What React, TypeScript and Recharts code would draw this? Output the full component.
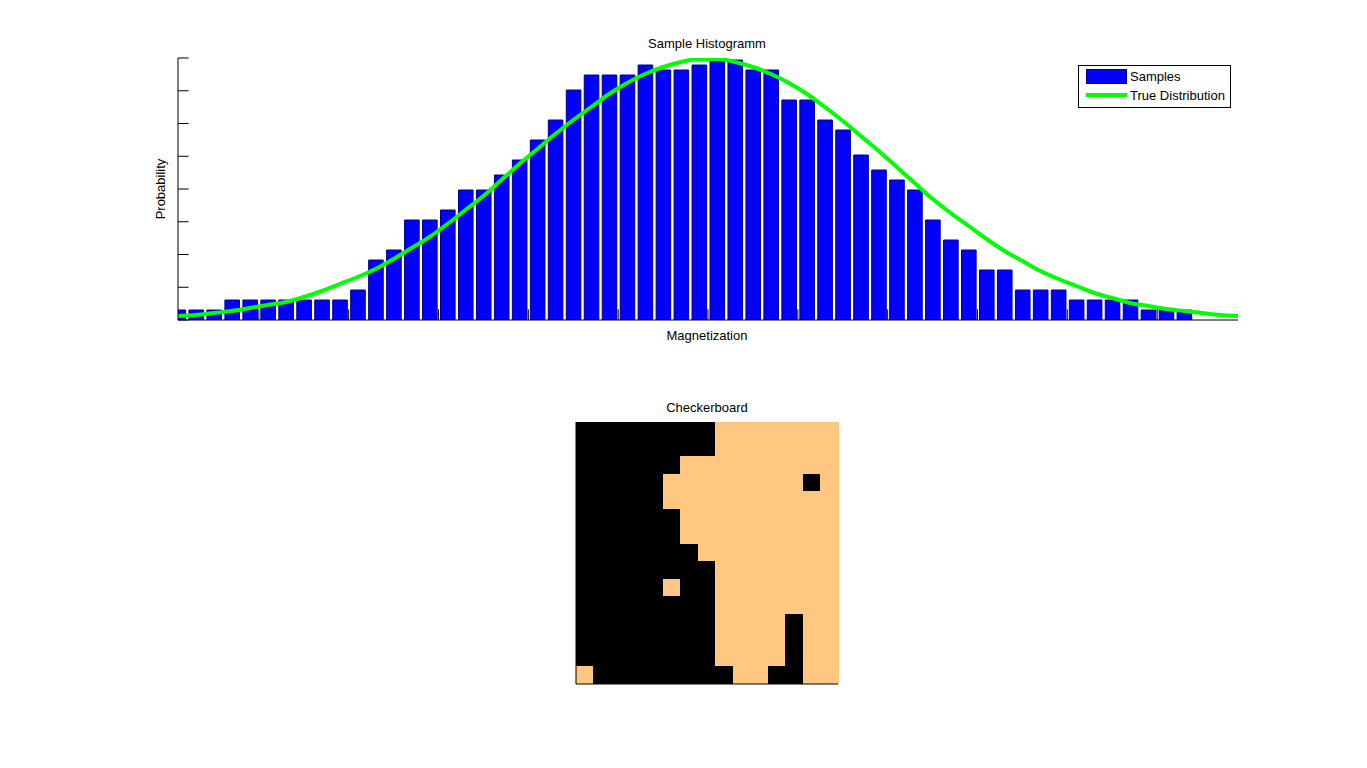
import { Bar, BarChart, Cell, ComposedChart, Line, XAxis, YAxis } from "recharts";

// histogram bins (bin centres on the x axis)
const binCenters = Array.from({ length: 60 }, (_, i) => i + 0.5);
const sampleCounts = [
  1, 1, 1, 2, 2, 2, 2, 2, 2, 2, 3, 6, 7, 10, 10, 11, 13, 13, 14.5, 16,
  18, 20, 23, 24.5, 24.5, 24.5, 25.5, 25, 25, 25.5, 26, 26, 25, 25, 22, 22, 20, 19, 16.5, 15,
  14, 13, 10, 8, 7, 5, 5, 3, 3, 3, 2, 2, 2, 2, 1, 1, 1,
];
const trueDensity = [
  0.4, 0.5, 0.7, 0.9, 1.2, 1.5, 1.8, 2.3, 2.9, 3.6, 4.3, 5.1, 6.1, 7.2, 8.3, 9.6, 11.0, 12.4, 14.0, 15.6,
  17.1, 18.6, 20.0, 21.3, 22.6, 23.7, 24.6, 25.3, 25.8, 26.1, 26.1, 25.8, 25.3, 24.6, 23.7, 22.6, 21.3, 19.9, 18.4, 16.9,
  15.3, 13.7, 12.1, 10.7, 9.4, 8.1, 6.9, 5.9, 4.9, 4.1, 3.4, 2.7, 2.2, 1.7, 1.4, 1.1, 0.9, 0.7, 0.5, 0.4,
];
const xTicks = [5, 10, 15, 20, 25, 30, 35, 40, 45, 50, 55];
const yTicks = [0, 3.275, 6.55, 9.825, 13.1, 16.375, 19.65, 22.925, 26.2];

// 15x15 spin lattice, top row first: 1 = up (light), 0 = down (black)
const spinRows = [
  "000000001111111",
  "000000001111111",
  "000000111111111",
  "000001111111101",
  "000001111111111",
  "000000111111111",
  "000000111111111",
  "000000011111111",
  "000000001111111",
  "000001001111111",
  "000000001111111",
  "000000001111011",
  "000000001111011",
  "000000001111011",
  "100000000110011",
];
const spinColors = { "1": "#ffc77f", "0": "#000000" };

const histData = binCenters.map((u, i) => ({
  u,
  samples: sampleCounts[i],
  density: trueDensity[i],
}));

const boardCols = spinRows[0].split("").map((_, c) => `c${c}`);
const boardData = spinRows.map((row, r) => {
  const rec: Record<string, number | string> = { row: `r${r}` };
  boardCols.forEach((k) => (rec[k] = 1));
  return rec;
});

const font = { fontFamily: "'Liberation Sans', Arial, sans-serif", fontSize: 13 };
const noTick = () => <g />;

export default function App() {
  const n = spinRows.length;
  return (
    <div style={{ position: "relative", width: 1367, height: 768, background: "#fff" }}>
      <style>{`body{margin:0} .board .recharts-bar-rectangle path{shape-rendering:crispEdges}`}</style>

      <div style={{ position: "absolute", left: 0, top: 0 }}>
        <ComposedChart
          width={1367}
          height={345}
          data={histData}
          margin={{ top: 58, right: 129, bottom: 24, left: 177 }}
        >
          <XAxis
            dataKey="u"
            type="number"
            domain={[0.5, 59.5]}
            ticks={xTicks}
            allowDataOverflow
            height={1}
            stroke="#000"
            tick={noTick}
            tickSize={-10.6}
          />
          <YAxis
            type="number"
            domain={[0, 26.2]}
            ticks={yTicks}
            allowDataOverflow
            width={1}
            stroke="#000"
            tick={noTick}
            tickSize={-10.6}
          />
          <Bar
            dataKey="samples"
            barSize={14.6}
            fill="#0000ff"
            stroke="#000090"
            strokeWidth={1}
            isAnimationActive={false}
          />
          <Line
            dataKey="density"
            type="monotone"
            stroke="#00ff00"
            strokeWidth={4}
            dot={false}
            activeDot={false}
            isAnimationActive={false}
          />
        </ComposedChart>
      </div>

      <div className="board" style={{ position: "absolute", left: 0, top: 390 }}>
        <BarChart
          width={1367}
          height={310}
          data={boardData}
          layout="vertical"
          barCategoryGap={0}
          barGap={0}
          margin={{ top: 32, right: 529, bottom: 15, left: 575 }}
        >
          <XAxis
            type="number"
            domain={[0, n]}
            ticks={[0, n]}
            height={1}
            stroke="#000"
            tick={noTick}
            tickLine={false}
          />
          <YAxis
            type="category"
            dataKey="row"
            width={1}
            stroke="#000"
            tick={noTick}
            tickLine={false}
          />
          {boardCols.map((k, c) => (
            <Bar key={k} dataKey={k} stackId="board" isAnimationActive={false}>
              {spinRows.map((row, r) => {
                const col = spinColors[row[c] as "0" | "1"];
                return <Cell key={r} fill={col} stroke={col} strokeWidth={1} />;
              })}
            </Bar>
          ))}
        </BarChart>
      </div>

      <svg
        width={1367}
        height={768}
        style={{ position: "absolute", left: 0, top: 0, pointerEvents: "none", ...font }}
      >
        <text x={707} y={48} textAnchor="middle">Sample Histogramm</text>
        <text x={707} y={340} textAnchor="middle">Magnetization</text>
        <text x={165} y={189} textAnchor="middle" transform="rotate(-90 165 189)">Probability</text>
        <text x={707} y={412} textAnchor="middle">Checkerboard</text>

        <rect x={1078.5} y={65.5} width={152} height={42} fill="#fff" stroke="#000" />
        <rect x={1086.5} y={69.5} width={40} height={14} fill="#0000ff" stroke="#000090" />
        <line x1={1086} x2={1127} y1={95} y2={95} stroke="#00ff00" strokeWidth={4} />
        <text x={1130} y={81}>Samples</text>
        <text x={1130} y={100}>True Distribution</text>
      </svg>
    </div>
  );
}
